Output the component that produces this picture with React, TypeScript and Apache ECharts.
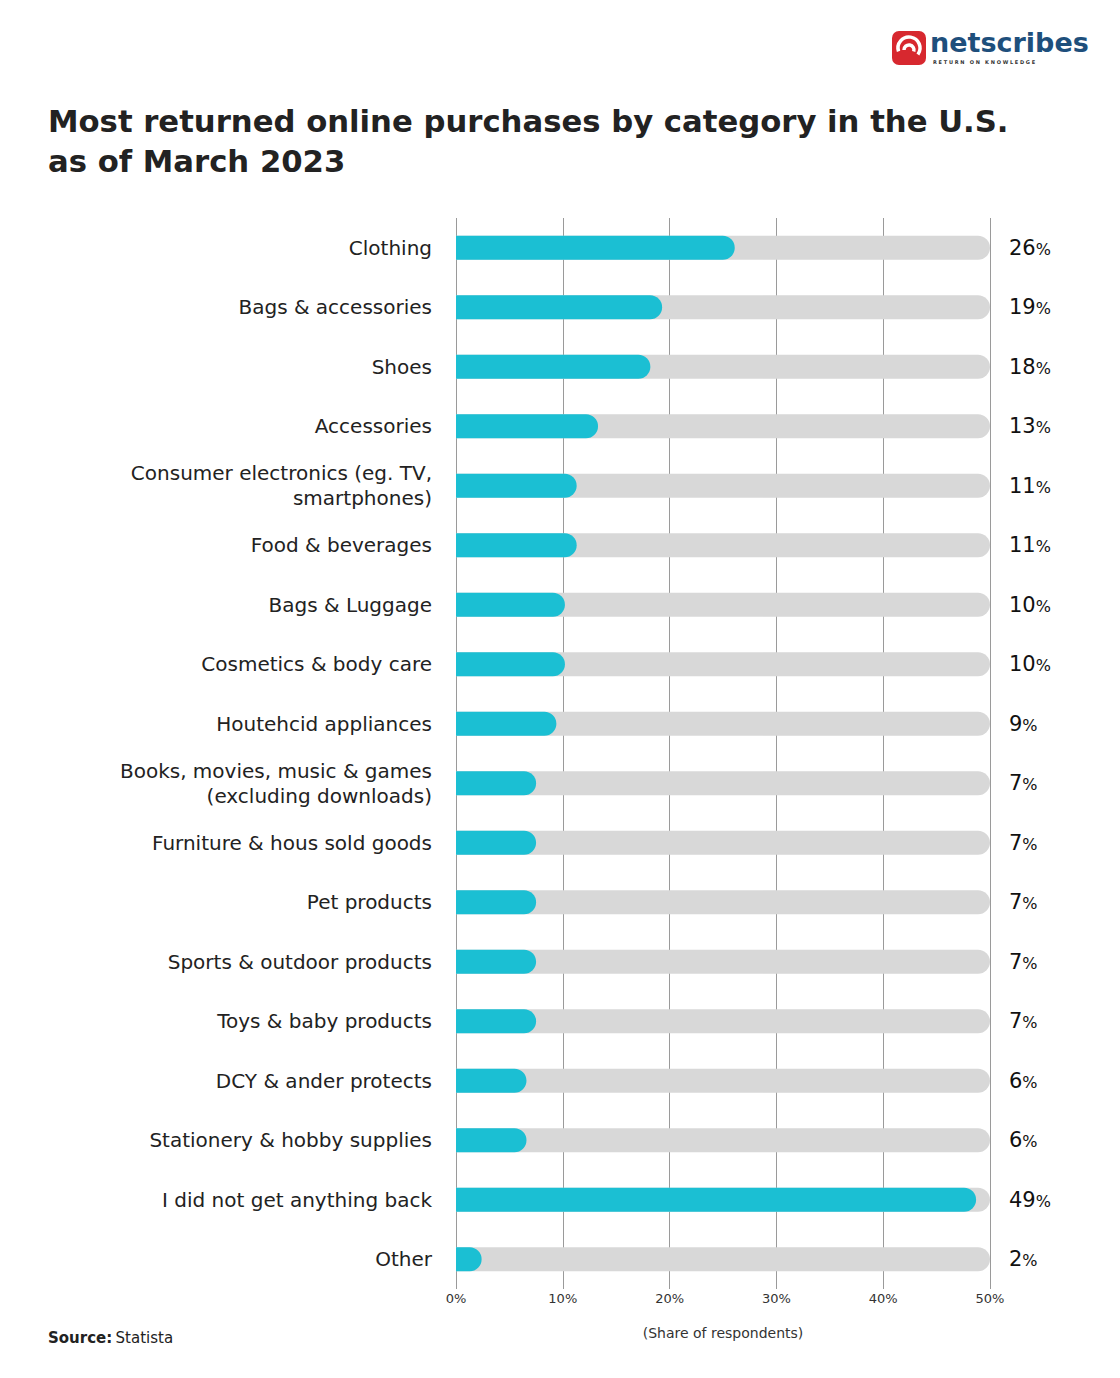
import React, { useEffect, useRef } from "react";
import * as echarts from "echarts";

const categories = [
  "Clothing",
  "Bags & accessories",
  "Shoes",
  "Accessories",
  "Consumer electronics (eg. TV,\nsmartphones)",
  "Food & beverages",
  "Bags & Luggage",
  "Cosmetics & body care",
  "Houtehcid appliances",
  "Books, movies, music & games\n(excluding downloads)",
  "Furniture & hous sold goods",
  "Pet products",
  "Sports & outdoor products",
  "Toys & baby products",
  "DCY & ander protects",
  "Stationery & hobby supplies",
  "I did not get anything back",
  "Other",
];
// bar lengths as drawn in the picture
const barValues = [26.1, 19.3, 18.2, 13.3, 11.3, 11.3, 10.2, 10.2, 9.4, 7.5, 7.5, 7.5, 7.5, 7.5, 6.6, 6.6, 48.7, 2.4];
// printed value labels
const labelValues = [26, 19, 18, 13, 11, 11, 10, 10, 9, 7, 7, 7, 7, 7, 6, 6, 49, 2];
const axisMax = 50;
const tickLabels = ["0%", "10%", "20%", "30%", "40%", "50%"];

const FONT = "'DejaVu Sans', 'Open Sans', sans-serif";

export default function App() {
  const ref = useRef<HTMLDivElement>(null);
  useEffect(() => {
    document.body.style.margin = "0";
    const chart = echarts.init(ref.current!, null, { renderer: "svg" });
    chart.setOption({
      animation: false,
      backgroundColor: "#ffffff",
      textStyle: { fontFamily: FONT },
      grid: { left: 456, right: 130, top: 218, bottom: 89 },
      xAxis: {
        type: "value",
        min: 0,
        max: axisMax,
        interval: 10,
        axisLine: { show: false },
        axisTick: { show: false },
        splitLine: { show: true, lineStyle: { color: "#9a9a9a", width: 1 } },
        axisLabel: {
          margin: 3,
          fontSize: 13,
          color: "#333",
          fontFamily: FONT,
          formatter: (v: number) => tickLabels[Math.round(v / 10)] ?? "",
        },
        name: "(Share of respondents)",
        nameLocation: "middle",
        nameGap: 37,
        nameTextStyle: { fontSize: 14, color: "#333", fontFamily: FONT },
      },
      yAxis: {
        type: "category",
        data: categories,
        inverse: true,
        axisLine: { show: false },
        axisTick: { show: false },
        axisLabel: {
          margin: 24,
          fontSize: 20,
          color: "#222",
          lineHeight: 25,
          align: "right",
          fontFamily: FONT,
        },
      },
      series: [
        {
          type: "bar",
          data: categories.map(() => axisMax),
          barWidth: 24,
          barGap: "-100%",
          itemStyle: { color: "#d8d8d8", borderRadius: [0, 12, 12, 0] },
          label: {
            show: true,
            position: "right",
            distance: 19,
            formatter: (p: any) => `{a|${labelValues[p.dataIndex]}}{b|%}`,
            rich: {
              a: { fontSize: 21, color: "#111", fontFamily: FONT },
              b: { fontSize: 16, color: "#111", fontFamily: FONT, padding: [3, 0, 0, 0] },
            },
          },
          silent: true,
          z: 1,
        },
        {
          type: "bar",
          data: barValues,
          barWidth: 24,
          itemStyle: { color: "#1bbfd3", borderRadius: [0, 12, 12, 0] },
          z: 2,
        },
      ],
      graphic: [
        {
          type: "text",
          left: 48,
          top: 101,
          style: {
            text: "Most returned online purchases by category in the U.S.\nas of March 2023",
            fontSize: 30.7,
            fontWeight: "bold",
            lineHeight: 40,
            fill: "#222",
            fontFamily: FONT,
          },
        },
        {
          type: "text",
          left: 48,
          top: 1330,
          style: {
            rich: {
              s: { fontSize: 15, fontWeight: "bold", fill: "#222", fontFamily: FONT },
              t: { fontSize: 15, fill: "#222", fontFamily: FONT },
            },
            text: "{s|Source:} {t|Statista}",
          },
        },
        {
          type: "group",
          left: 892,
          top: 29,
          children: [
            { type: "rect", shape: { x: 0, y: 0, width: 34, height: 34, r: 7 }, style: { fill: "#d7282f" } },
            { type: "arc", shape: { cx: 17, cy: 17, r: 11, startAngle: Math.PI * 0.9, endAngle: Math.PI * 2.2 }, style: { stroke: "#fff", lineWidth: 3.5, fill: "none" } },
            { type: "arc", shape: { cx: 17, cy: 19, r: 5, startAngle: Math.PI * 1.0, endAngle: Math.PI * 2.1 }, style: { stroke: "#fff", lineWidth: 3.5, fill: "none" } },
            {
              type: "text",
              x: 38,
              y: -2,
              style: { text: "netscribes", fontSize: 27, fontWeight: "bold", fill: "#1e4f7c", fontFamily: FONT },
            },
            {
              type: "text",
              x: 41,
              y: 28,
              style: { text: "R E T U R N   O N   K N O W L E D G E", fontSize: 5, fontWeight: "bold", fill: "#333", fontFamily: FONT },
            },
          ],
        },
      ],
    });
    return () => chart.dispose();
  }, []);
  return <div ref={ref} style={{ width: 1120, height: 1378, position: "absolute", left: 0, top: 0 }} />;
}
